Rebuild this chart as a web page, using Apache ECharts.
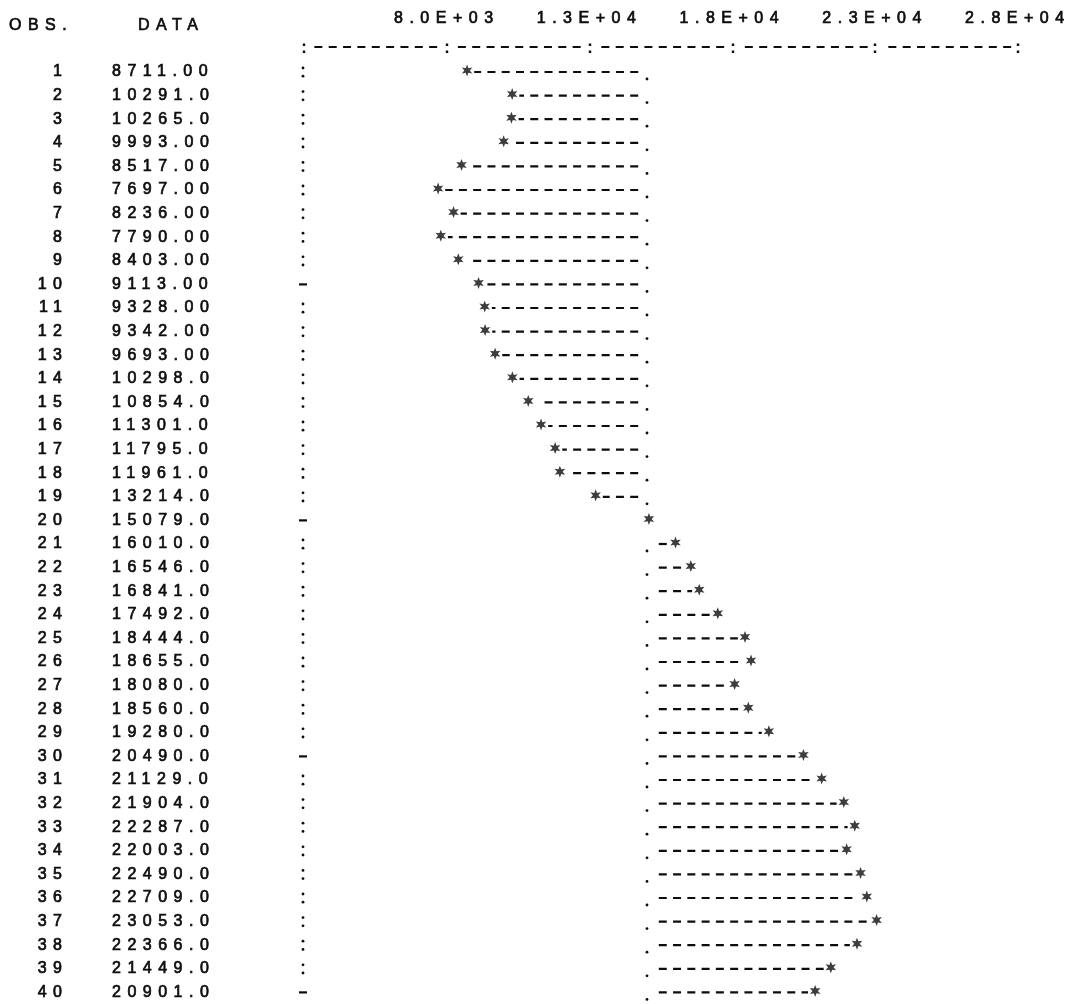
<!DOCTYPE html>
<html>
<head>
<meta charset="utf-8">
<title>OBS. / DATA</title>
<script src="https://cdn.jsdelivr.net/npm/echarts@6/dist/echarts.min.js"></script>
<style>
  html, body { margin: 0; padding: 0; background: #ffffff; }
  #chart { width: 1074px; height: 1004px; }
</style>
</head>
<body>
<div id="chart"></div>
<script>
// Observation numbers and their values
const obsNumbers = [
  1, 2, 3, 4, 5, 6, 7, 8, 9, 10,
  11, 12, 13, 14, 15, 16, 17, 18, 19, 20,
  21, 22, 23, 24, 25, 26, 27, 28, 29, 30,
  31, 32, 33, 34, 35, 36, 37, 38, 39, 40
];
const dataValues = [
  8711, 10291, 10265, 9993, 8517, 7697, 8236, 7790, 8403, 9113,
  9328, 9342, 9693, 10298, 10854, 11301, 11795, 11961, 13214, 15079,
  16010, 16546, 16841, 17492, 18444, 18655, 18080, 18560, 19280, 20490,
  21129, 21904, 22287, 22003, 22490, 22709, 23053, 22366, 21449, 20901
];

// Horizontal scale: one tick every 5000, first tick unlabelled
const axisMin = 3000;
const axisMax = 28000;
const axisStep = 5000;
const tickLabels = ['', '8.0E+03', '1.3E+04', '1.8E+04', '2.3E+04', '2.8E+04'];

// One print column is worth 500 units (ten columns between ticks)
const columnValue = 500;

// Bars hang from the series mean
const meanValue = dataValues.reduce((a, b) => a + b, 0) / dataValues.length;

// Printout typography: fixed character pitch on every canvas text call
const PRINT_SPACING = '6.5px';
(function () {
  const proto = CanvasRenderingContext2D.prototype;
  if (!('letterSpacing' in proto)) return;
  const fill = proto.fillText;
  const stroke = proto.strokeText;
  const measure = proto.measureText;
  proto.fillText = function () { this.letterSpacing = PRINT_SPACING; return fill.apply(this, arguments); };
  proto.strokeText = function () { this.letterSpacing = PRINT_SPACING; return stroke.apply(this, arguments); };
  proto.measureText = function () { this.letterSpacing = PRINT_SPACING; return measure.apply(this, arguments); };
})();

const FONT = '"Liberation Sans", Arial, Helvetica, sans-serif';
const INK = '#0d0d0d';
const textBase = {
  fontFamily: FONT, fontSize: 16, fontWeight: 'normal', color: INK,
  textBorderColor: INK, textBorderWidth: 0.7
};

// Six-pointed print asterisk
const starPath = 'path://M100 0 L122.5 61 L186.6 50 L145 100 L186.6 150 L122.5 139 L100 200 L77.5 139 L13.4 150 L55 100 L13.4 50 L77.5 61 Z';

// Header rule: colon at each tick, nine dashes between
const ruleDash = [0, 10.35];
for (let k = 0; k < 9; k++) ruleDash.push(8, k < 8 ? 6.35 : 10.35);

function formatValue(v) {
  return v < 10000 ? v.toFixed(2) : v.toFixed(1);
}

const points = dataValues.map((v, i) => [v, i]);

const chart = echarts.init(document.getElementById('chart'), null, { renderer: 'canvas' });

const option = {
  animation: false,
  backgroundColor: '#ffffff',
  title: [
    { text: 'OBS.', left: 9, top: 14, padding: 0, textStyle: textBase },
    { text: 'DATA', left: 138, top: 14, padding: 0, textStyle: textBase }
  ],
  grid: { left: 304, right: 52.5, top: 72, bottom: 8 },
  xAxis: [
    {
      type: 'value',
      position: 'top',
      offset: 25,
      min: axisMin,
      max: axisMax,
      interval: axisStep,
      axisLine: { show: true, lineStyle: { color: INK, width: 2.2, cap: 'butt', type: ruleDash } },
      axisTick: { show: false },
      splitLine: { show: false },
      axisLabel: {
        margin: 17,
        ...textBase,
        formatter: (v) => tickLabels[Math.round((v - axisMin) / axisStep)]
      }
    },
    {
      type: 'value',
      position: 'top',
      offset: 19,
      min: axisMin,
      max: axisMax,
      interval: axisStep,
      axisLine: { show: false },
      axisTick: { show: true, length: 9.5, lineStyle: { color: INK, width: 2.4, type: [2.5, 4.5, 2.5] } },
      splitLine: { show: false },
      axisLabel: { show: false }
    }
  ],
  yAxis: [
    {
      type: 'category',
      data: obsNumbers.map(String),
      inverse: true,
      boundaryGap: false,
      axisLine: { show: false },
      axisTick: { show: false },
      splitLine: { show: false },
      axisLabel: { interval: 0, margin: 235.5, ...textBase }
    },
    {
      type: 'category',
      position: 'left',
      data: obsNumbers.map(String),
      inverse: true,
      boundaryGap: false,
      axisLine: { show: false },
      axisTick: { show: false },
      splitLine: { show: false },
      axisLabel: {
        interval: 0,
        margin: 192,
        align: 'left',
        ...textBase,
        formatter: (v, i) => formatValue(dataValues[i])
      }
    }
  ],
  series: [
    {
      type: 'custom',
      name: 'rows',
      xAxisIndex: 0,
      yAxisIndex: 0,
      data: points,
      silent: true,
      renderItem(params, api) {
        const v = api.value(0);
        const row = api.value(1);
        const pv = api.coord([v, row]);
        const pr = api.coord([meanValue, row]);
        const pl = api.coord([axisMin, row]);
        const cell = api.size([columnValue, 0])[0];
        const y = pv[1];
        const children = [];

        // left margin marker: ':' on ordinary rows, '-' every tenth row
        if (obsNumbers[row] % 10 === 0) {
          children.push({
            type: 'line',
            shape: { x1: pl[0] - 5, y1: y, x2: pl[0] + 3, y2: y },
            style: { stroke: INK, lineWidth: 2.2 }
          });
        } else {
          children.push({ type: 'circle', shape: { cx: pl[0] - 1, cy: y - 4, r: 1.4 }, style: { fill: INK } });
          children.push({ type: 'circle', shape: { cx: pl[0] - 1, cy: y + 4.2, r: 1.4 }, style: { fill: INK } });
        }

        // dashes run column by column from the mean out to the value
        if (Math.abs(v - meanValue) > columnValue / 2) {
          children.push({ type: 'circle', shape: { cx: pr[0] - 1.5, cy: y + 7, r: 1.4 }, style: { fill: INK } });
          const dir = v < meanValue ? -1 : 1;
          const dash = cell * 0.56;
          const gap = cell - dash;
          const x1 = pr[0] + dir * cell * 0.72;
          const limit = pv[0] - dir * cell * 0.5;
          const span = (limit - x1) * dir;
          if (span > 0) {
            // last dash may be shortened next to the star, but not to a speck
            let count = Math.ceil(span / cell);
            let len = Math.min(count * cell - gap, span);
            if (len - (count - 1) * cell < 3) len = (count - 1) * cell - gap;
            if (len > 0) {
              children.push({
                type: 'line',
                shape: { x1: x1, y1: y, x2: x1 + dir * len, y2: y },
                style: { stroke: INK, lineWidth: 2.2, lineDash: [dash, gap] }
              });
            }
          }
        }
        return { type: 'group', children: children };
      },
      z: 2
    },
    {
      type: 'scatter',
      name: 'DATA',
      xAxisIndex: 0,
      yAxisIndex: 0,
      data: points,
      symbol: starPath,
      symbolSize: [10.5, 12],
      symbolOffset: [0, -1.5],
      itemStyle: { color: INK },
      silent: true,
      z: 3
    }
  ]
};

chart.setOption(option);
</script>
</body>
</html>
